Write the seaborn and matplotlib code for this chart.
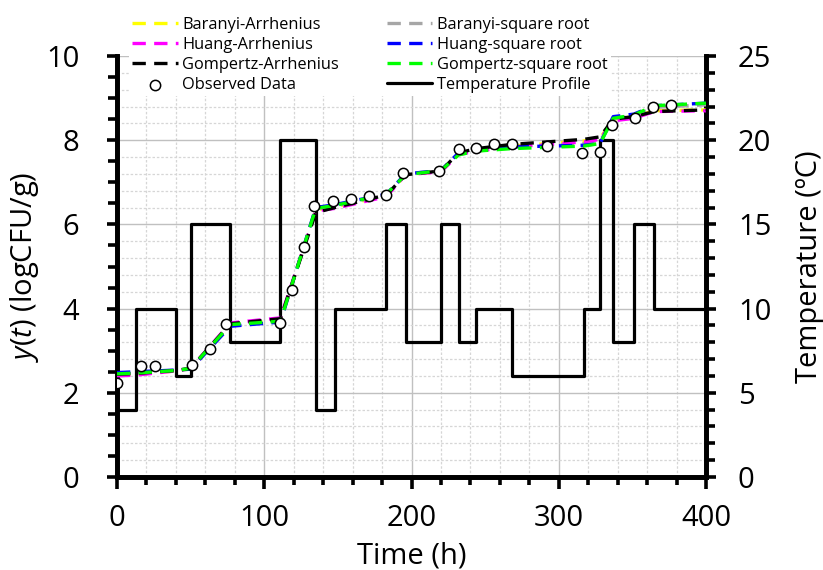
import numpy as np
import pandas as pd
import matplotlib
matplotlib.use("Agg")
import matplotlib.pyplot as plt
from matplotlib.ticker import MultipleLocator
import seaborn as sns

# ---------------- data ----------------
temp_t = [0, 13, 40, 50, 77, 111, 135, 148, 183, 196, 220, 232, 244, 268, 317, 328, 337, 351, 365, 400]
temp_v = [4, 10, 6, 15, 8, 20, 4, 10, 15, 8, 15, 8, 10, 6, 10, 20, 8, 15, 10, 10]

model_t = [0, 13, 40, 50, 77, 111, 135, 148, 183, 196, 220, 232, 244, 268, 317, 328, 337, 351, 365, 400]
baranyi_arr = [2.42, 2.44, 2.52, 2.57, 3.60, 3.72, 6.35, 6.42, 6.68, 7.18, 7.26, 7.68, 7.76, 7.86, 7.98, 8.04, 8.50, 8.56, 8.70, 8.72]
baranyi_sqr = [2.45, 2.47, 2.54, 2.58, 3.62, 3.72, 6.37, 6.44, 6.70, 7.20, 7.28, 7.68, 7.76, 7.84, 7.92, 7.97, 8.52, 8.58, 8.78, 8.84]
huang_arr = [2.40, 2.42, 2.52, 2.58, 3.66, 3.78, 6.32, 6.38, 6.66, 7.18, 7.25, 7.66, 7.74, 7.84, 7.96, 8.02, 8.46, 8.52, 8.68, 8.70]
huang_sqr = [2.48, 2.50, 2.54, 2.56, 3.58, 3.68, 6.40, 6.47, 6.72, 7.20, 7.28, 7.70, 7.78, 7.84, 7.88, 7.92, 8.56, 8.62, 8.82, 8.88]
gompertz_arr = [2.44, 2.46, 2.53, 2.58, 3.64, 3.76, 6.28, 6.40, 6.70, 7.18, 7.27, 7.70, 7.80, 7.90, 8.02, 8.08, 8.50, 8.56, 8.68, 8.72]
gompertz_sqr = [2.45, 2.47, 2.53, 2.58, 3.62, 3.70, 6.38, 6.45, 6.72, 7.18, 7.28, 7.65, 7.74, 7.80, 7.86, 7.92, 8.52, 8.60, 8.82, 8.88]

obs_t = [0, 16, 26, 51, 63, 74, 111, 119, 127, 134, 147, 159, 171, 183, 194, 219, 232, 244, 256, 268, 292, 316, 328, 336, 352, 364, 376]
obs_y = [2.23, 2.64, 2.64, 2.66, 3.03, 3.63, 3.65, 4.43, 5.47, 6.44, 6.56, 6.60, 6.67, 6.71, 7.23, 7.28, 7.78, 7.81, 7.90, 7.90,
         7.86, 7.69, 7.73, 8.36, 8.52, 8.78, 8.84]

x_ticks = [0, 100, 200, 300, 400]
y_ticks = [0, 2, 4, 6, 8, 10]
t_ticks = [0, 5, 10, 15, 20, 25]

# ---------------- style ----------------
sns.set_theme(style="white")
plt.rcParams["font.family"] = ["Open Sans", "DejaVu Sans"]
plt.rcParams["mathtext.fontset"] = "custom"
plt.rcParams["mathtext.rm"] = "Open Sans"
plt.rcParams["mathtext.it"] = "Open Sans:italic"
plt.rcParams["text.color"] = "black"
plt.rcParams["axes.labelcolor"] = "black"
plt.rcParams["xtick.color"] = "black"
plt.rcParams["ytick.color"] = "black"

FS = 21
fig = plt.figure(figsize=(8.23, 5.70), dpi=100)
L, R, T, B = 117 / 823, 706 / 823, 56 / 570, 477 / 570
ax = fig.add_axes([L, 1 - B, R - L, B - T])   # temperature (right axis)
ax2 = ax.twinx()                               # growth (left axis)
ax.yaxis.tick_right()
ax.yaxis.set_label_position("right")
ax2.yaxis.tick_left()
ax2.yaxis.set_label_position("left")

# temperature profile
tdf = pd.DataFrame({"t": temp_t, "T": temp_v})
sns.lineplot(data=tdf, x="t", y="T", ax=ax, drawstyle="steps-post", color="black",
             lw=2.3, label="Temperature Profile", sort=False, legend=False)

# models
models = [
    ("Baranyi-Arrhenius", baranyi_arr, "#ffff00"),
    ("Baranyi-square root", baranyi_sqr, "#a6a6a6"),
    ("Huang-Arrhenius", huang_arr, "#ff00ff"),
    ("Huang-square root", huang_sqr, "#0000ff"),
    ("Gompertz-Arrhenius", gompertz_arr, "#000000"),
    ("Gompertz-square root", gompertz_sqr, "#00ff00"),
]
for name, vals, col in models:
    mdf = pd.DataFrame({"t": model_t, "y": vals})
    sns.lineplot(data=mdf, x="t", y="y", ax=ax2, color=col, lw=2.4,
                 linestyle=(0, (4, 2.5)), label=name, legend=False, zorder=3)

odf = pd.DataFrame({"t": obs_t, "y": obs_y})
sns.scatterplot(data=odf, x="t", y="y", ax=ax2, marker="o", s=55, facecolor="white",
                edgecolor="black", linewidth=1.1, label="Observed Data", legend=False, zorder=5)

# axes limits / ticks
ax.set_xlim(0, 400)
ax.set_ylim(0, 25)
ax2.set_ylim(0, 10)
ax.set_xticks(x_ticks)
ax.xaxis.set_minor_locator(MultipleLocator(20))
ax.set_yticks(t_ticks)
ax.yaxis.set_minor_locator(MultipleLocator(1))
ax2.set_yticks(y_ticks)
ax2.yaxis.set_minor_locator(MultipleLocator(0.5))

# grid (on temperature axes, under the curves)
ax.set_axisbelow(True)
ax.grid(which="major", axis="both", color="#c0c0c0", lw=1.0, ls="-")
ax.grid(which="minor", axis="both", color="#d6d6d6", lw=0.9, ls=(0, (2, 1.5)))

for a in (ax, ax2):
    for s in ("left", "right", "bottom"):
        a.spines[s].set_linewidth(3.4)
        a.spines[s].set_color("black")
    a.spines["top"].set_visible(False)

ax.tick_params(axis="x", which="major", direction="out", length=8.5, width=2.6, labelsize=FS, pad=11, color="black", labelcolor="black", bottom=True)
ax.tick_params(axis="x", which="minor", direction="out", length=5.5, width=2.6, color="black", bottom=True)
ax.tick_params(axis="y", which="major", direction="out", length=7, width=2.6, labelsize=FS, pad=16, color="black", labelcolor="black", right=True, left=False)
ax.tick_params(axis="y", which="minor", direction="out", length=6.5, width=2.6, color="black", right=True, left=False)
ax2.tick_params(axis="y", which="major", direction="out", length=7, width=2.6, labelsize=FS, pad=20, color="black", labelcolor="black", left=True, right=False)
ax2.tick_params(axis="y", which="minor", direction="out", length=6.5, width=2.6, color="black", left=True, right=False)

ax.set_xlabel("Time (h)", fontsize=FS, labelpad=6, color="black")
ax.set_ylabel("Temperature (ºC)", fontsize=FS, labelpad=17, color="black")
ax2.set_ylabel(r"$y(t)$ (logCFU/g)", fontsize=FS, labelpad=4, color="black")
ax2.set_xlabel("")

# legend
h1, l1 = ax2.get_legend_handles_labels()
h0, l0 = ax.get_legend_handles_labels()
hd = dict(zip(l1 + l0, h1 + h0))
order = ["Baranyi-Arrhenius", "Huang-Arrhenius", "Gompertz-Arrhenius", "Observed Data",
         "Baranyi-square root", "Huang-square root", "Gompertz-square root", "Temperature Profile"]
leg = fig.legend([hd[k] for k in order], order, ncol=2, loc="center",
                 bbox_to_anchor=(370 / 823, 1 - 55 / 570), fontsize=11.8,
                 frameon=True, facecolor="white", edgecolor="none", framealpha=1,
                 fancybox=False, handlelength=2.75, handletextpad=0.3, columnspacing=2.9,
                 labelspacing=0.25, borderpad=0.2)
for txt in leg.get_texts():
    txt.set_color("black")

fig.savefig("out.png", dpi=100)
